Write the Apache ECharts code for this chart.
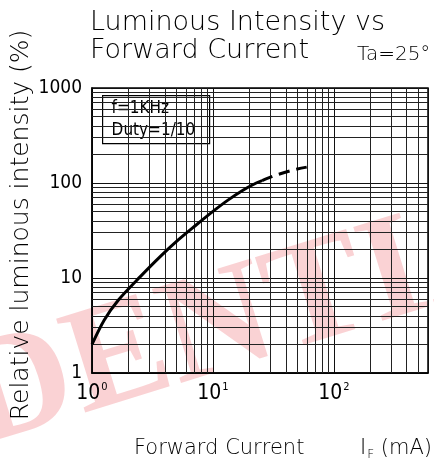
<!DOCTYPE html>
<html>
<head>
<meta charset="utf-8">
<script src="https://cdn.jsdelivr.net/npm/echarts@6/dist/echarts.min.js"></script>
<style>
  html, body { margin: 0; padding: 0; background: #fff; }
  #main { width: 434px; height: 461px; }
</style>
</head>
<body>
<div id="main"></div>
<script>
// forward current (mA) vs relative luminous intensity (%)
var currentSolid = [1, 1.26, 1.66, 2.52, 3.68, 5.19, 7.14, 10, 13.3, 17.7, 22.8, 25.5];
var intensitySolid = [2, 3.6, 5.9, 10.4, 16.9, 25.3, 35.5, 50.2, 66, 84, 100, 106];
var currentDashed = [25.5, 27.8, 33.9, 45, 59.6];
var intensityDashed = [106, 111, 122, 136, 147];

// minor grid lines
var xMinor = [2, 3, 4, 5, 6, 7, 8, 9, 20, 30, 40, 50, 60, 70, 80, 90, 200, 300, 400, 500];
var yMinor = [2, 3, 4, 5, 6, 7, 8, 9, 20, 30, 40, 50, 60, 70, 80, 90, 200, 300, 400, 500, 600, 700, 800, 900];
var xDecades = [1, 10, 100];

var lineFont = "'DejaVu Sans', sans-serif";
var numFont = "'Liberation Sans Narrow', 'DejaVu Sans Condensed', sans-serif";

function pairs(xs, ys) {
  return xs.map(function (x, i) { return [x, ys[i]]; });
}

var gridMarks = xMinor.map(function (v) { return { xAxis: v }; })
  .concat(yMinor.map(function (v) { return { yAxis: v }; }));

var myChart = echarts.init(document.getElementById('main'));

var option = {
  animation: false,
  graphic: [
    {
      type: 'text', x: -10, y: 480, rotation: 0.3, z: -10, silent: true,
      style: {
        text: 'DENTIAL', font: "bold 150px 'Liberation Serif'",
        verticalAlign: 'bottom', align: 'left',
        fill: 'rgba(232,30,40,0.2)'
      }
    },
    {
      type: 'text', left: 90, top: 9,
      style: { text: 'Luminous Intensity vs', font: '200 27px ' + lineFont, fill: '#000' }
    },
    {
      type: 'text', left: 90, top: 37,
      style: { text: 'Forward Current', font: '200 27px ' + lineFont, fill: '#000' }
    },
    {
      type: 'text', left: 357, top: 45,
      style: { text: 'Ta=25°', font: '200 20px ' + lineFont, fill: '#000' }
    },
    {
      type: 'text', x: 21, y: 225, rotation: Math.PI / 2,
      style: {
        text: 'Relative luminous intensity (%)', font: '200 25px ' + lineFont,
        fill: '#000', align: 'center', verticalAlign: 'middle'
      }
    },
    {
      type: 'text', left: 134, top: 438,
      style: { text: 'Forward Current', font: '200 21px ' + lineFont, fill: '#000' }
    },
    {
      type: 'text', left: 360, top: 438,
      style: {
        text: '{m|I}{s|F}{m| (mA)}',
        rich: {
          m: { font: '200 21px ' + lineFont, fill: '#000' },
          s: { font: '200 12px ' + lineFont, fill: '#000', padding: [12, 0, 0, 1] }
        }
      }
    },
    {
      type: 'group', left: 102, top: 95, z: 10,
      children: [
        {
          type: 'rect', shape: { x: 0, y: 0, width: 107, height: 48 },
          style: { fill: '#fff', stroke: '#000', lineWidth: 1.2 }
        },
        {
          type: 'text', left: 9, top: 4,
          style: { text: 'f=1KHz', font: '17px ' + numFont, fill: '#000' }
        },
        {
          type: 'text', left: 9, top: 26,
          style: { text: 'Duty=1/10', font: '17px ' + numFont, fill: '#000' }
        }
      ]
    }
  ],
  grid: {
    left: 92, right: 6, top: 88, bottom: 88,
    show: true, borderColor: '#000', borderWidth: 1.5, backgroundColor: 'transparent'
  },
  xAxis: {
    type: 'log', logBase: 10, min: 1, max: 600,
    axisLine: { show: true, lineStyle: { color: '#000', width: 1.5 } },
    axisTick: { show: false },
    splitLine: { show: true, lineStyle: { color: '#111', width: 1 } },
    axisLabel: {
      margin: 9,
      showMaxLabel: false,
      formatter: function (v) {
        var i = xDecades.indexOf(Math.round(v));
        if (i < 0 || Math.abs(v - xDecades[i]) > 1e-6) return '';
        return '{b|10}{s|' + i + '}';
      },
      rich: {
        b: { fontFamily: numFont, fontSize: 21, color: '#000', lineHeight: 22, verticalAlign: 'bottom' },
        s: { fontFamily: numFont, fontSize: 11, color: '#000', lineHeight: 22, verticalAlign: 'top', padding: [0, 0, 0, 1] }
      }
    }
  },
  yAxis: {
    type: 'log', logBase: 10, min: 1, max: 1000,
    axisLine: { show: true, lineStyle: { color: '#000', width: 1.5 } },
    axisTick: { show: false },
    splitLine: { show: true, lineStyle: { color: '#111', width: 1 } },
    axisLabel: {
      margin: 10, fontFamily: numFont, fontSize: 19, color: '#000',
      formatter: function (v) { return String(Math.round(v)); }
    }
  },
  series: [
    {
      type: 'line',
      data: pairs(currentSolid, intensitySolid),
      smooth: 0.3,
      symbol: 'none',
      lineStyle: { color: '#000', width: 3 },
      z: 5,
      markLine: {
        silent: true,
        symbol: 'none',
        label: { show: false },
        lineStyle: { color: '#222', width: 1, type: 'solid' },
        emphasis: { disabled: true },
        data: gridMarks
      }
    },
    {
      type: 'line',
      data: pairs(currentDashed, intensityDashed),
      smooth: 0.3,
      symbol: 'none',
      lineStyle: { color: '#000', width: 3, type: [11, 7] },
      z: 5
    }
  ]
};
myChart.setOption(option);
</script>
</body>
</html>
